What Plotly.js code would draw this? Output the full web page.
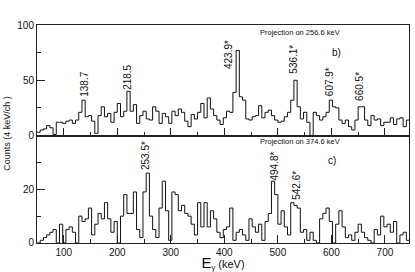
<!DOCTYPE html>
<html>
<head>
<meta charset="utf-8">
<script src="https://cdn.plot.ly/plotly-3.0.1.min.js"></script>
<style>html,body{margin:0;padding:0;background:#fff;}#chart{width:415px;height:272px;}</style>
</head>
<body>
<div id="chart"></div>
<script>
// Histogram binning (keV)
const binStart = 50;
const binWidth = 6;

// Projection on 256.6 keV (panel b), counts per bin
const countsB = [
  3,5,6,9,7,1,12,12,11,13,
  14,11,14,21,32,17,18,13,2,18,
  26,17,20,12,21,29,17,22,40,22,
  28,11,18,22,15,14,26,22,11,20,
  17,11,22,18,24,21,13,8,19,15,
  21,29,16,34,24,18,14,10,16,22,
  21,39,77,35,32,15,14,17,18,27,
  16,21,23,18,14,12,13,17,21,32,
  50,26,15,21,12,0,21,18,14,17,
  21,32,26,25,14,11,14,8,5,14,
  26,26,14,9,18,14,15,9,12,12,
  16,10,15,16,8,14
];

// Projection on 374.6 keV (panel c), counts per bin
const countsC = [
  0,1,2,3,4,5,0,7,0,5,
  6,4,0,10,8,9,13,3,7,11,
  9,15,9,4,8,0,10,18,11,11,
  19,5,2,19,26,10,5,2,13,23,
  12,1,19,18,12,14,11,10,7,3,
  15,6,15,6,12,9,4,2,5,6,
  13,1,4,5,3,1,9,6,4,7,
  1,8,11,23,18,7,12,6,3,15,
  14,13,4,5,1,4,1,0,9,11,
  13,8,0,7,12,6,2,3,1,4,
  7,4,2,1,0,5,3,10,6,7,
  4,8,0,3,4,1
];

// Peak labels: text, energy, label height (counts)
const peaksB = ["138.7","218.5","423.9*","536.1*","607.9*","660.5*"];
const peaksBx = [139.6, 219.8, 409, 529, 597, 652.6];
const peaksBy = [46.8, 53, 73, 69, 49, 44.5];

const peaksC = ["253.5*","494.8*","542.6*"];
const peaksCx = [253, 494, 535];
const peaksCy = [32.6, 28.7, 21.5];

const gateB = "Projection on 256.6 keV";
const gateC = "Projection on 374.6 keV";
const panelB = "b)";
const panelC = "c)";

function stepXY(counts){
  const x = [], y = [];
  for (let i = 0; i < counts.length; i++){
    x.push(binStart + i*binWidth);
    y.push(counts[i]);
  }
  x.push(binStart + counts.length*binWidth);
  y.push(counts[counts.length-1]);
  return {x, y};
}

const sb = stepXY(countsB);
const sc = stepXY(countsC);

const lineStyle = {color:'#111', width:1, shape:'hv'};

const traces = [
  {type:'scatter', mode:'lines', x:sb.x, y:sb.y, xaxis:'x2', yaxis:'y2', line:lineStyle, name:'256.6 keV gate', hoverinfo:'x+y'},
  {type:'scatter', mode:'lines', x:sc.x, y:sc.y, xaxis:'x', yaxis:'y', line:lineStyle, name:'374.6 keV gate', hoverinfo:'x+y'}
];

const axCol = '#222';
const common = {
  showline:true, linecolor:axCol, linewidth:1, mirror:true,
  showgrid:false, zeroline:false, ticks:'inside', tickcolor:axCol, tickwidth:1, ticklen:8
};

const annotations = [];
peaksB.forEach((t,i)=>annotations.push({
  text:t, x:peaksBx[i], y:peaksBy[i], xref:'x2', yref:'y2', showarrow:false,
  textangle:-90, xanchor:'center', yanchor:'middle', font:{size:10, color:'#111'}
}));
peaksC.forEach((t,i)=>annotations.push({
  text:t, x:peaksCx[i], y:peaksCy[i], xref:'x', yref:'y', showarrow:false,
  textangle:-90, xanchor:'center', yanchor:'middle', font:{size:10, color:'#111'}
}));
annotations.push({text:gateB, x:541, y:93.6, xref:'x2', yref:'y2', showarrow:false, xanchor:'center', yanchor:'middle', font:{size:7.5, color:'#111'}});
annotations.push({text:gateC, x:541, y:37.6, xref:'x', yref:'y', showarrow:false, xanchor:'center', yanchor:'middle', font:{size:7.5, color:'#111'}});
annotations.push({text:panelB, x:610, y:75, xref:'x2', yref:'y2', showarrow:false, xanchor:'center', yanchor:'middle', font:{size:10, color:'#111'}});
annotations.push({text:panelC, x:602, y:30.7, xref:'x', yref:'y', showarrow:false, xanchor:'center', yanchor:'middle', font:{size:10, color:'#111'}});
annotations.push({text:'Counts (4 keV/ch )', x:-0.081, y:0.505, xref:'paper', yref:'paper', showarrow:false,
  textangle:-90, xanchor:'center', yanchor:'middle', font:{size:9, color:'#111'}});

const layout = {
  width:415, height:272,
  margin:{l:37, r:6, t:25, b:29, pad:0},
  paper_bgcolor:'#fff', plot_bgcolor:'#fff',
  showlegend:false,
  font:{family:'"Liberation Sans", Arial, sans-serif', size:10, color:'#111'},
  xaxis:Object.assign({}, common, {
    anchor:'y', domain:[0,1], range:[50,745], tick0:0, dtick:100,
    minor:{tick0:0, dtick:50, ticks:'inside', ticklen:4, tickcolor:axCol},
    title:{text:'<span style="font-size:15px">E</span><sub>γ</sub> (keV)', font:{size:11}, standoff:0}
  }),
  xaxis2:Object.assign({}, common, {
    anchor:'y2', matches:'x', range:[50,745], tick0:0, dtick:100, showticklabels:false,
    minor:{tick0:0, dtick:50, ticks:'inside', ticklen:4, tickcolor:axCol}
  }),
  yaxis:Object.assign({}, common, {
    anchor:'x', domain:[0,0.493], range:[0,40], tickmode:'array', tickvals:[0,20], ticktext:['0','20'],
    minor:{tickmode:'linear', tick0:0, dtick:10, ticks:'inside', ticklen:4, tickcolor:axCol}
  }),
  yaxis2:Object.assign({}, common, {
    anchor:'x2', domain:[0.493,1], range:[0,100], tickmode:'array', tickvals:[0,50,100], ticktext:['0','50','100'],
    minor:{tickmode:'linear', tick0:0, dtick:25, ticks:'inside', ticklen:4, tickcolor:axCol}
  }),
  annotations:annotations
};

Plotly.newPlot('chart', traces, layout, {displayModeBar:false, staticPlot:true});
</script>
</body>
</html>
